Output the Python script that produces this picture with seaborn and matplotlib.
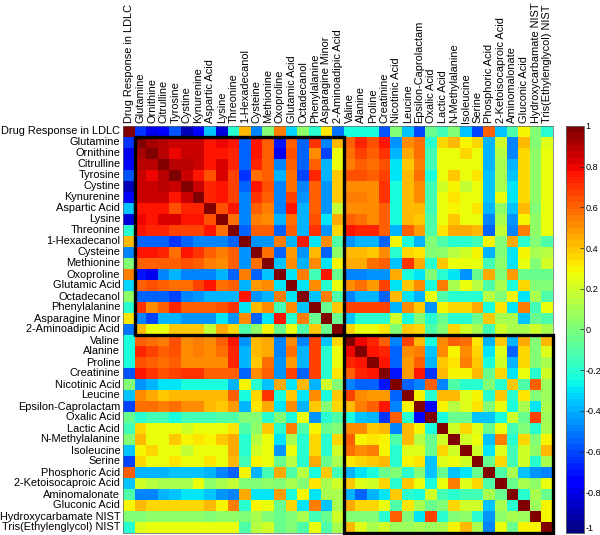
import numpy as np
import seaborn as sns

from matplotlib import pyplot as plt
from matplotlib.patches import Rectangle

names = ['Drug Response in LDLC', 'Glutamine', 'Ornithine', 'Citrulline', 'Tyrosine', 'Cystine', 'Kynurenine',
         'Aspartic Acid', 'Lysine', 'Threonine', '1-Hexadecanol', 'Cysteine', 'Methionine', 'Oxoproline',
         'Glutamic Acid', 'Octadecanol', 'Phenylalanine', 'Asparagine Minor', '2-Aminoadipic Acid', 'Valine',
         'Alanine', 'Proline', 'Creatinine', 'Nicotinic Acid', 'Leucine', 'Epsilon-Caprolactam', 'Oxalic Acid',
         'Lactic Acid', 'N-Methylalanine', 'Isoleucine', 'Serine', 'Phosphoric Acid', '2-Ketoisocaproic Acid',
         'Aminomalonate', 'Gluconic Acid', 'Hydroxycarbamate NIST', 'Tris(Ethylenglycol) NIST']

# Upper triangle, each row starts right after the diagonal
r00 = [-.65, -.8, -.78, -.58, -.9, -.75, -.35, -.82, -.2, .42, -.5, 0, .55, -.32, .05, -.2, .32, -.52,
       -.25, -.25, -.25, -.58, 0, -.35, -.6, -.05, -.15, 0, -.35, -.62, .6, -.35, -.1, .3, 0, -.2]
r01 = [.93, .9, .87, .87, .85, .75, .8, .75, -.55, .77, .62, -.7, .62, -.55, .7, -.5, .42,
       .6, .72, .65, .75, -.45, .5, .58, -.2, .35, .42, .3, .35, -.4, .2, -.5, .42, .03, .22]
r02 = [.88, .8, .87, .85, .77, .78, .72, -.55, .75, .62, -.8, .63, -.55, .52, -.6, .27,
       .58, .68, .6, .7, -.4, .45, .58, -.15, .25, .28, .35, .27, -.4, .15, -.5, .37, .05, .25]
r03 = [.88, .88, .85, .75, .83, .73, -.55, .72, .62, -.5, .6, -.55, .6, -.4, .25,
       .55, .6, .58, .65, -.3, .4, .55, -.15, .27, .27, .27, .27, -.4, .12, -.38, .37, .05, .27]
r04 = [.87, .78, .65, .82, .68, -.65, .58, .62, -.4, .58, -.6, .72, -.4, .38,
       .63, .65, .6, .68, -.3, .42, .58, -.25, .25, .38, .25, .33, -.35, .12, -.35, .35, .05, .27]
r05 = [.85, .72, .75, .68, -.55, .75, .65, -.5, .58, -.5, .62, -.45, .38,
       .5, .52, .52, .7, -.25, .42, .52, -.15, .2, .3, .17, .27, -.35, .1, -.3, .35, .05, .27]
r06 = [.72, .77, .66, -.5, .7, .62, -.5, .68, -.45, .62, -.45, .38,
       .55, .55, .52, .7, -.25, .42, .5, -.15, .27, .32, .25, .27, -.35, .25, -.3, .35, .05, .27]
r07 = [.65, .75, -.5, .62, .55, -.5, .75, -.4, .6, -.45, .17,
       .5, .52, .5, .6, -.25, .42, .42, -.13, .27, .3, .27, .33, -.4, .05, -.35, .42, .03, .27]
r08 = [.58, -.5, .55, .5, -.4, .58, -.4, .65, -.3, .45,
       .6, .58, .52, .62, -.25, .42, .38, -.12, .27, .4, .27, .27, -.5, .12, -.45, .3, .05, .27]
r09 = [-.55, .62, .6, -.55, .6, -.4, .7, -.45, .35,
       .78, .72, .72, .6, -.4, .6, .48, -.12, .33, .45, .45, .42, -.55, .17, -.5, .55, .05, .25]
r10 = [-.45, -.45, .55, -.4, .78, -.3, .5, -.1,
       -.45, -.4, -.38, -.55, .3, -.25, -.4, 0, -.1, -.2, -.2, -.15, .3, 0, .45, -.2, 0, -.1]
r11 = [.58, -.55, .48, -.45, .42, -.55, .05,
       .42, .42, .4, .5, -.2, .37, .33, .02, .05, .15, .2, .3, -.4, 0, -.3, .3, .12, .15]
r12 = [-.35, .52, -.4, .52, -.3, .3,
       .45, .45, .58, .62, -.35, .7, .45, -.2, .38, .25, .25, .27, -.15, .05, -.3, .25, 0, .2]
r13 = [-.3, .55, -.15, .75, -.05,
       -.5, -.5, -.45, -.45, .45, -.25, -.3, 0, -.2, -.3, -.45, -.05, .45, 0, .47, -.05, -.05, -.05]
r14 = [-.3, .5, -.2, .25,
       .5, .58, .48, .68, -.3, .38, .5, -.25, .55, .1, .25, .15, -.1, .1, -.25, .35, 0, .02]
r15 = [-.35, .55, -.1,
       -.5, -.4, -.4, -.55, .42, -.3, -.4, .25, -.1, -.2, -.2, -.2, .15, 0, .3, -.3, .1, -.1]
r16 = [-.05, .4,
       .68, .68, .68, .68, -.4, .5, .4, -.45, .3, .37, .37, .45, -.25, .33, -.3, .55, -.15, .25]
r17 = [-.05,
       -.35, -.2, -.2, -.2, .2, -.25, .02, -.2, -.05, -.2, -.2, -.05, .4, .1, .1, -.35, -.05, -.1]
r18 = [.35, .25, .25, .32, 0, .38, .37, -.1, 0, .35, .2, .1, -.15, .2, .1, .1, .2, .1]
r19 = [.8, .72, .6, -.5, .68, .42, -.25, .5, .62, .58, .33, -.4, .38, -.4, .45, 0, .42]
r20 = [.78, .73, -.55, .5, .55, -.35, .5, .3, .5, .35, -.3, .22, -.55, .35, .02, .22]
r21 = [.75, -.55, .48, .6, -.4, .4, .32, .55, .38, -.25, .2, -.4, .35, 0, .12]
r22 = [-.7, .48, .78, -.65, .42, .3, .3, .42, -.05, .35, -.3, .25, -.2, .2]
r23 = [-.55, -.5, .6, -.5, -.1, -.2, -.2, 0, -.2, .4, -.1, .6, .08]
r24 = [.3, -.2, .42, .42, .22, .3, -.2, .4, -.2, .32, 0, .08]
r25 = [-.75, .3, .15, .22, .33, 0, .25, -.25, .1, -.3, .12]
r26 = [-.25, -.05, -.05, -.35, -.35, -.25, .2, -.05, .68, .08]
r27 = [.2, .35, .22, -.05, .25, -.15, .02, -.2, .1]
r28 = [.2, .25, -.35, .55, -.2, .35, 0, .3]
r29 = [.2, -.3, .22, -.15, .2, .05, .42]
r30 = [-.05, .35, -.15, .2, -.2, .1]
r31 = [-.1, .12, -.35, -.45, -.5]
r32 = [-.05, .1, .05, .25]
r33 = [-.2, .1, -.05]
r34 = [.08, .3]
r35 = [.3]

rows = [r00, r01, r02, r03, r04, r05, r06, r07, r08, r09, r10, r11, r12, r13, r14, r15, r16, r17,
        r18, r19, r20, r21, r22, r23, r24, r25, r26, r27, r28, r29, r30, r31, r32, r33, r34, r35]

cluster_sizes = [18, 18]
cbar_ticks = [-1, -.8, -.6, -.4, -.2, 0, .2, .4, .6, .8, 1]
cbar_labels = ['-1', '-0.8', '-0.6', '-0.4', '-0.2', '0', '0.2', '0.4', '0.6', '0.8', '1']

# Mirror the upper triangle into a full matrix
n = len(names)
corr = np.eye(n)
for i, row in enumerate(rows):
    corr[i, i + 1:] = row
    corr[i + 1:, i] = row

plt.rcParams['font.family'] = ['Liberation Sans', 'DejaVu Sans']
W, H = 600, 535
fig = plt.figure(figsize=(W / 100, H / 100), dpi=100)
ax = fig.add_axes([123 / W, 1 - 533 / H, 430 / W, 407 / H])
cax = fig.add_axes([566 / W, 1 - 533 / H, 18 / W, 407 / H])

sns.heatmap(corr, ax=ax, cbar_ax=cax, cmap=plt.get_cmap('jet', 64), vmin=-1, vmax=1,
            xticklabels=names, yticklabels=names, square=False)

# Row and column names
ax.xaxis.tick_top()
ax.tick_params(axis='both', which='major', length=0, pad=2, labelsize=7.9)
plt.setp(ax.get_xticklabels(), rotation=90, ha='center', va='bottom')
plt.setp(ax.get_yticklabels(), rotation=0, ha='right', va='center')

# Small inward ticks every five cells, like the original
five = np.arange(4.5, n, 5)
ax.set_xticks(five, minor=True)
ax.set_yticks(five, minor=True)
ax.tick_params(axis='both', which='minor', direction='in', length=2, width=0.5, color='#303030',
               top=True, bottom=True, left=True, right=True)

for spine in ax.spines.values():
    spine.set_visible(True)
    spine.set_linewidth(0.5)
    spine.set_color('#606060')

# Thick boxes around both clusters
start = 1
for size in cluster_sizes:
    ax.add_patch(Rectangle((start, start), size, size, fill=False, edgecolor='black', linewidth=2.4,
                           clip_on=False, zorder=5))
    start += size

cax.set_yticks(cbar_ticks, cbar_labels)
cax.tick_params(axis='y', direction='in', length=3, width=0.5, pad=1, labelsize=6.6, color='#202020')
# The lowest label would run off the bottom edge otherwise
cax.get_yticklabels()[0].set_va('bottom')
for spine in cax.spines.values():
    spine.set_visible(True)
    spine.set_linewidth(0.5)
    spine.set_color('#606060')

fig.savefig('out.png', dpi=100)
